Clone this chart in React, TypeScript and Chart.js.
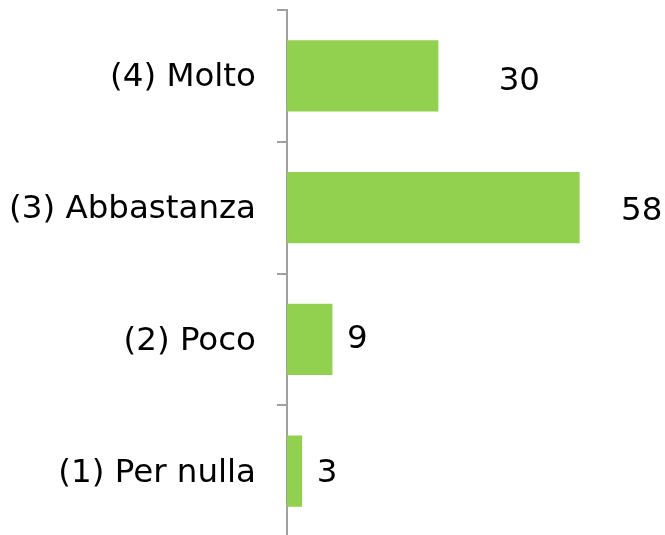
import React, { useEffect, useRef } from "react";
import { Chart, registerables } from "chart.js";

Chart.register(...registerables);

const categories = ["(4) Molto", "(3) Abbastanza", "(2) Poco", "(1) Per nulla"];
const values = [30, 58, 9, 3];
const valueLabels = ["30", "58", "9", "3"];

// label placement (style): distance from bar end to label centre, vertical nudge
const labelDx = [81, 62, 25, 25];
const labelDy = [6, 4, 0, 2];

const FONT = "'DejaVu Sans', Verdana, sans-serif";

const valueLabelPlugin = {
  id: "valueLabels",
  afterDatasetsDraw(chart: any) {
    const ctx = chart.ctx;
    const meta = chart.getDatasetMeta(0);
    ctx.save();
    ctx.font = `32.5px ${FONT}`;
    ctx.fillStyle = "#000000";
    ctx.textAlign = "center";
    ctx.textBaseline = "middle";
    meta.data.forEach((bar: any, i: number) => {
      ctx.fillText(valueLabels[i], bar.x + labelDx[i], bar.y + labelDy[i]);
    });
    ctx.restore();
  },
};

export default function App() {
  const ref = useRef<HTMLCanvasElement | null>(null);
  useEffect(() => {
    if (!ref.current) return;
    const chart = new Chart(ref.current, {
      type: "bar",
      data: {
        labels: categories,
        datasets: [
          {
            data: values,
            backgroundColor: "#92D050",
            borderWidth: 0,
            categoryPercentage: 1,
            barPercentage: 0.54,
          },
        ],
      },
      options: {
        indexAxis: "y",
        animation: false,
        responsive: false,
        maintainAspectRatio: false,
        layout: { padding: { top: 10, left: 0, right: 45, bottom: 0 } },
        plugins: {
          legend: { display: false },
          tooltip: { enabled: false },
        },
        scales: {
          x: {
            display: false,
            min: 0,
            max: 66,
          },
          y: {
            afterFit(scale: any) {
              scale.width = 287;
              scale.paddingTop = 0;
              scale.paddingBottom = 0;
            },
            grid: {
              display: true,
              drawOnChartArea: false,
              drawTicks: true,
              tickLength: 10,
              color: "#A0A0A0",
              lineWidth: 2,
              offset: true,
            },
            border: { display: true, color: "#A0A0A0", width: 2 },
            ticks: {
              color: "#000000",
              padding: 21,
              labelOffset: 2,
              font: { family: FONT, size: 32.5 },
            },
          },
        },
      },
      plugins: [valueLabelPlugin],
    });
    return () => chart.destroy();
  }, []);
  return (
    <div
      style={{
        position: "fixed",
        left: 0,
        top: 0,
        width: 665,
        height: 535,
        overflow: "hidden",
        background: "#fff",
      }}
    >
      <canvas ref={ref} width={665} height={537} style={{ display: "block" }} />
    </div>
  );
}
